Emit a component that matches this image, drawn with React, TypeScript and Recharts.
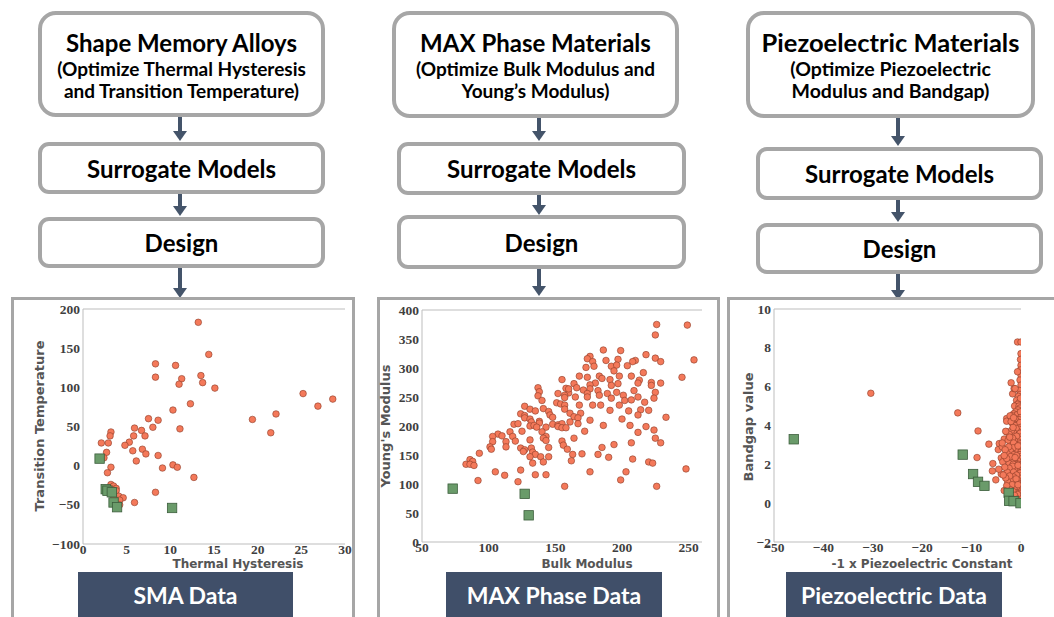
import React from 'react';
import { ScatterChart, Scatter, XAxis, YAxis, ReferenceLine } from 'recharts';

// flow chart text
const panelTitles = ['Shape Memory Alloys', 'MAX Phase Materials', 'Piezoelectric Materials'];
const panelSubtitles = [
  ['(Optimize Thermal Hysteresis', 'and Transition Temperature)'],
  ['(Optimize Bulk Modulus and', 'Young\u2019s Modulus)'],
  ['(Optimize Piezoelectric', 'Modulus and Bandgap)'],
];
const dataLabels = ['SMA Data', 'MAX Phase Data', 'Piezoelectric Data'];
const xLabels = ['Thermal Hysteresis', 'Bulk Modulus', '-1 x Piezoelectric Constant'];
const yLabels = ['Transition Temperature', "Young's Modulus", 'Bandgap value'];

// ticks
const smaXTicks = [0, 5, 10, 15, 20, 25, 30];
const smaYTicks = [-100, -50, 0, 50, 100, 150, 200];
const maxXTicks = [50, 100, 150, 200, 250];
const maxYTicks = [0, 50, 100, 150, 200, 250, 300, 350, 400];
const piezoXTicks = [-50, -40, -30, -20, -10, 0];
const piezoYTicks = [-2, 0, 2, 4, 6, 8, 10];

// SMA: thermal hysteresis vs transition temperature
const smaOrange = [
  [13.2, 183], [14.4, 142], [8.3, 130], [10.6, 128], [8.3, 113], [13.5, 115], [11.3, 111], [11.0, 104],
  [13.7, 106], [15.1, 99], [25.2, 92], [28.6, 85], [26.9, 76], [12.3, 79], [10.3, 71], [22.1, 66],
  [19.4, 59], [7.5, 60], [8.6, 58], [8.0, 49], [5.9, 48], [6.7, 45], [11.1, 47], [3.2, 43],
  [3.1, 38], [5.8, 38], [7.1, 38], [21.5, 42], [2.1, 29], [2.9, 29], [5.3, 30], [4.8, 26],
  [6.8, 21], [5.7, 19], [7.2, 15], [2.7, 17], [2.4, 10], [8.6, 13], [6.1, 6], [3.2, -2],
  [10.3, 1], [10.8, -2], [9.1, -3], [2.8, -9], [12.7, -15], [3.2, -24], [3.5, -26], [3.8, -29],
  [3.8, -32], [3.3, -30], [8.3, -34], [3.8, -42], [4.1, -39], [4.6, -41], [4.2, -44], [5.9, -47],
  [4.2, -50], [3.5, -39],
];
const smaGreen = [
  [1.9, 9], [2.6, -30], [2.8, -32], [3.3, -34], [3.5, -47], [3.9, -53], [10.2, -54],
];

// MAX phases: bulk modulus vs Young's modulus
const maxOrange = [
  [226, 375], [249, 374], [225, 357], [186, 331], [199, 330], [176, 320], [218, 323], [254, 314],
  [188, 313], [197, 315], [210, 313], [225, 317], [229, 311], [174, 316], [178, 311], [179, 303],
  [192, 303], [173, 301], [196, 305], [208, 311], [204, 304], [194, 295], [216, 292], [168, 286],
  [174, 284], [155, 280], [183, 286], [185, 282], [198, 286], [207, 286], [245, 284], [191, 280],
  [180, 274], [164, 273], [213, 279], [222, 275], [229, 274], [192, 270], [176, 271], [158, 265],
  [166, 266], [137, 266], [171, 262], [176, 264], [182, 261], [197, 273], [212, 274], [222, 270],
  [209, 261], [138, 259], [152, 256], [160, 257], [174, 256], [189, 256], [196, 258], [225, 258],
  [157, 253], [165, 250], [137, 252], [183, 253], [201, 253], [224, 248], [174, 250], [192, 248],
  [212, 250], [157, 249], [140, 244], [202, 244], [207, 245], [217, 241], [151, 240], [154, 238],
  [168, 236], [178, 236], [184, 236], [198, 236], [157, 236], [127, 234], [131, 229], [135, 226],
  [141, 230], [157, 229], [191, 227], [205, 226], [214, 228], [145, 225], [124, 221], [127, 218],
  [146, 219], [161, 222], [164, 216], [169, 222], [167, 214], [148, 215], [127, 214], [131, 212],
  [132, 207], [138, 208], [138, 205], [200, 212], [212, 219], [220, 227], [176, 210], [161, 207],
  [233, 215], [167, 204], [119, 203], [122, 204], [148, 203], [152, 202], [155, 204], [131, 200],
  [134, 201], [136, 198], [152, 199], [155, 197], [158, 197], [186, 201], [206, 201], [218, 199],
  [143, 198], [140, 190], [172, 191], [125, 191], [116, 190], [212, 189], [224, 193], [143, 182],
  [141, 179], [118, 182], [107, 186], [103, 182], [110, 183], [120, 174], [131, 176], [143, 175],
  [155, 174], [113, 173], [103, 173], [225, 179], [207, 171], [229, 171], [164, 179], [101, 164],
  [113, 164], [124, 162], [145, 163], [156, 167], [159, 160], [185, 163], [194, 168], [102, 160],
  [127, 159], [132, 162], [126, 156], [133, 155], [135, 151], [93, 153], [182, 151], [170, 152],
  [163, 151], [131, 147], [139, 147], [145, 147], [190, 146], [86, 142], [88, 139], [83, 134],
  [86, 134], [89, 132], [133, 136], [141, 138], [162, 140], [208, 143], [220, 138], [223, 136],
  [105, 121], [112, 115], [124, 124], [176, 121], [203, 121], [248, 126], [135, 116], [143, 116],
  [92, 106], [122, 104], [199, 107], [157, 96], [226, 96], [160, 264],
];
const maxGreen = [[73, 92], [127, 83], [130, 46]];

// piezoelectrics: -1 x piezoelectric constant vs bandgap
const piezoOrange = [
  [-30.4, 5.66], [-12.8, 4.65], [-8.7, 3.72], [-8.9, 2.35], [-6.5, 3.04], [-5.8, 1.66], [-5.7, 2.04],
  [-5.1, 1.2], [-4.6, 2.76], [-4.4, 3.07], [-4.0, 2.33], [-3.7, 2.13], [-3.8, 2.9], [-3.4, 3.3],
  [-2.9, 4.36], [-2.9, 4.22], [-2.9, 3.67], [-2.0, 6.2], [-1.7, 5.63], [-1.4, 5.9], [-1.2, 4.53],
  [-0.7, 8.3], [0, 8.3], [0, 7.7], [-0.1, 7.4], [0, 7.1], [-0.1, 6.86], [0, 6.6], [-0.2, 6.34],
  [0, 6.08], [-0.3, 5.8], [-0.7, 6.77], [-1.2, 5.9],
  [-0.2, 5.6], [-0.5, 5.5], [-0.9, 5.3], [-0.3, 5.2], [-1.0, 5.05], [-0.6, 5.1], [-0.1, 5.4], [-1.3, 5.0], [-0.4, 5.0],
  [-0.2, 4.9], [-0.6, 4.8], [-1.1, 4.7], [-1.5, 4.6], [-0.3, 4.6], [-0.8, 4.55], [-1.8, 4.5], [-0.1, 4.7], [-2.2, 4.5],
  [-0.1, 4.4], [-0.4, 4.3], [-0.8, 4.2], [-1.2, 4.35], [-1.7, 4.1], [-2.0, 4.2], [-0.5, 4.05], [-1.0, 4.0], [-0.2, 4.15], [-1.5, 4.4],
  [-0.1, 3.9], [-0.3, 3.8], [-0.7, 3.7], [-1.0, 3.85], [-1.4, 3.6], [-1.9, 3.75], [-2.4, 3.55], [-0.5, 3.5], [-1.6, 3.9], [-0.2, 3.6], [-3.1, 3.7],
  [-0.1, 3.4], [-0.4, 3.3], [-0.6, 3.15], [-0.9, 3.45], [-1.3, 3.2], [-1.7, 3.35], [-2.1, 3.1], [-2.6, 3.25], [-3.8, 3.1],
  [-0.2, 3.05], [-1.1, 3.0], [-1.5, 3.1], [-2.3, 3.4],
  [-0.1, 2.95], [-0.3, 2.8], [-0.5, 2.65], [-0.8, 2.9], [-1.0, 2.55], [-1.2, 2.75], [-1.6, 2.85], [-1.9, 2.6], [-2.2, 2.7],
  [-2.5, 2.9], [-2.8, 2.55], [-3.2, 2.75], [-0.2, 2.5], [-0.6, 2.95], [-1.4, 2.5],
  [-0.1, 2.4], [-0.2, 2.1], [-0.4, 2.3], [-0.7, 2.2], [-0.9, 2.45], [-1.1, 2.05], [-1.4, 2.3], [-1.8, 2.15], [-2.1, 2.4],
  [-2.4, 2.05], [-2.9, 2.3], [-3.4, 2.45], [-0.5, 2.0], [-1.2, 2.35], [-1.6, 2.0],
  [-0.1, 1.9], [-0.3, 1.75], [-0.5, 1.6], [-0.8, 1.85], [-1.0, 1.5], [-1.3, 1.7], [-1.7, 1.9], [-2.0, 1.55], [-2.4, 1.8],
  [-2.8, 1.6], [-3.3, 1.85], [-4.0, 1.5], [-4.5, 1.75], [-0.2, 1.55], [-0.6, 1.95], [-1.5, 1.6],
  [-0.1, 1.4], [-0.2, 1.1], [-0.4, 1.3], [-0.7, 1.2], [-0.9, 1.45], [-1.2, 1.05], [-1.5, 1.35], [-1.9, 1.2], [-2.3, 1.4],
  [-2.7, 1.1], [-3.1, 1.3], [-3.6, 1.45], [-0.5, 1.0], [-1.0, 1.25],
  [-0.1, 0.9], [-0.3, 0.75], [-0.5, 0.6], [-0.8, 0.85], [-1.1, 0.55], [-1.4, 0.8], [-1.8, 0.95], [-2.2, 0.7], [-2.9, 0.9],
  [-3.4, 0.65], [-0.2, 0.5], [-0.6, 0.95], [-1.6, 0.6],
  [-0.1, 0.4], [-0.2, 0.15], [-0.4, 0.3], [-0.7, 0.45], [-1.0, 0.25], [-1.3, 0.4], [-0.5, 0.1], [-0.3, 0.05], [-0.8, 0.2],
];
const piezoGreen = [
  [-46.0, 3.29], [-11.8, 2.5], [-9.7, 1.5], [-8.7, 1.1], [-7.4, 0.89], [-2.5, 0.53], [-2.4, 0.12], [-1.5, 0.1], [-0.1, 0.0],
];

const NAVY = '#404f69';
const ARROW = '#44546a';
const FRAME = '#a6a6a6';
const BOX_FONT = 'Lato, "Open Sans", sans-serif';
const TICK_STYLE: React.CSSProperties = {
  fontFamily: '"Liberation Serif", "DejaVu Serif", serif',
  fontWeight: 700,
  fontSize: 13.5,
};

const toXY = (arr: number[][]) => arr.map(([x, y]) => ({ x, y }));

const Dot = (p: any) => (
  <circle cx={p.cx} cy={p.cy} r={3.3} fill="#f4795a" stroke="#8c3d28" strokeWidth={0.6} />
);
const Square = (p: any) => (
  <rect x={p.cx - 4.7} y={p.cy - 4.7} width={9.4} height={9.4} fill="#6a9b6a" stroke="#3c5e3c" strokeWidth={0.8} />
);

const fmt = (v: number) => (v < 0 ? '\u2212' + Math.abs(v) : String(v));

const XTick = (p: any) => (
  <text x={p.x} y={p.y} dy={9} textAnchor="middle" fill="#3f3f3f" style={TICK_STYLE}>
    {fmt(p.payload.value)}
  </text>
);
const YTick = (p: any) => (
  <text x={p.x} y={p.y} dy={4.5} textAnchor="end" fill="#3f3f3f" style={TICK_STYLE}>
    {fmt(p.payload.value)}
  </text>
);

interface PlotProps {
  plot: [number, number, number, number]; // left, top, right, bottom of plotting area
  clip: [number, number, number, number];
  orange: number[][];
  green: number[][];
  xDomain: [number, number];
  yDomain: [number, number];
  xTicks: number[];
  yTicks: number[];
}

const Plot: React.FC<PlotProps> = ({ plot, clip, orange, green, xDomain, yDomain, xTicks, yTicks }) => {
  const [pl, pt, pr, pb] = plot;
  const yw = 70;
  const xh = 26;
  const mt = 12;
  const mr = 16;
  const left = pl - yw;
  const top = pt - mt;
  const width = pr - left + mr;
  const height = pb - top + xh;
  const [cl, ct, cw, ch] = clip;
  return (
    <div style={{ position: 'absolute', left: cl, top: ct, width: cw, height: ch, overflow: 'hidden' }}>
      <div style={{ position: 'absolute', left: left - cl, top: top - ct }}>
        <ScatterChart width={width} height={height} margin={{ top: mt, right: mr, left: 0, bottom: 0 }}>
          <XAxis
            type="number"
            dataKey="x"
            domain={xDomain}
            ticks={xTicks}
            interval={0}
            allowDataOverflow
            height={xh}
            tick={XTick}
            tickLine={false}
            tickSize={0}
            tickMargin={1}
            axisLine={{ stroke: '#bdbdbd' }}
          />
          <YAxis
            type="number"
            dataKey="y"
            domain={yDomain}
            ticks={yTicks}
            interval={0}
            allowDataOverflow
            width={yw}
            tick={YTick}
            tickLine={false}
            tickSize={0}
            tickMargin={3}
            axisLine={{ stroke: '#bdbdbd' }}
          />
          <ReferenceLine y={yDomain[1]} stroke="#bdbdbd" />
          <Scatter data={toXY(orange)} shape={Dot} isAnimationActive={false} />
          <Scatter data={toXY(green)} shape={Square} isAnimationActive={false} />
        </ScatterChart>
      </div>
    </div>
  );
};

const Box: React.FC<{ r: number[]; radius: number; children: React.ReactNode }> = ({ r, radius, children }) => (
  <div
    style={{
      position: 'absolute',
      left: r[0],
      top: r[1],
      width: r[2] - r[0],
      height: r[3] - r[1],
      boxSizing: 'border-box',
      border: `4px solid ${FRAME}`,
      borderRadius: radius,
      background: '#fff',
      display: 'flex',
      flexDirection: 'column',
      alignItems: 'center',
      justifyContent: 'center',
      fontFamily: BOX_FONT,
      fontWeight: 700,
      color: '#000',
      whiteSpace: 'nowrap',
    }}
  >
    {children}
  </div>
);

const Arrow: React.FC<{ x: number; y1: number; y2: number }> = ({ x, y1, y2 }) => (
  <>
    <div style={{ position: 'absolute', left: x - 2, top: y1, width: 4, height: y2 - y1 - 9, background: ARROW }} />
    <div
      style={{
        position: 'absolute',
        left: x - 7,
        top: y2 - 10,
        width: 0,
        height: 0,
        borderLeft: '7px solid transparent',
        borderRight: '7px solid transparent',
        borderTop: `10px solid ${ARROW}`,
      }}
    />
  </>
);

const flowLayout = [
  { big: [38, 11, 325, 117], sur: [38, 142, 325, 194], des: [38, 217, 325, 268], ax: 180, arrows: [[117, 141], [194, 216], [268, 298]], ts: 24, ss: 19 },
  { big: [392, 11, 679, 118], sur: [397, 142, 686, 195], des: [397, 215, 686, 269], ax: 539, arrows: [[118, 141], [195, 215], [269, 296]], ts: 24, ss: 19 },
  { big: [746, 11, 1035, 118], sur: [756, 147, 1043, 200], des: [756, 223, 1043, 274], ax: 898, arrows: [[118, 146], [200, 222], [274, 300]], ts: 25.5, ss: 19.5 },
];
const frames = [[11, 355], [377, 720], [727, 1070]];
const labelBoxes = [[78, 293], [446, 662], [786, 1002]];
const axisLabelPos = [
  { xl: [238, 564], yl: [40, 426] },
  { xl: [587, 564], yl: [386, 426] },
  { xl: [922, 564], yl: [749, 427] },
];

export default function App() {
  const axisFont: React.CSSProperties = {
    position: 'absolute',
    fontFamily: '"DejaVu Sans", "Open Sans", sans-serif',
    fontWeight: 700,
    color: '#555',
    whiteSpace: 'nowrap',
    lineHeight: '16px',
  };
  return (
    <div style={{ position: 'absolute', left: 0, top: 0, width: 1054, height: 617, overflow: 'hidden', background: '#fff' }}>
      {flowLayout.map((f, i) => (
        <React.Fragment key={i}>
          <Box r={f.big} radius={18}>
            <div style={{ fontSize: f.ts, lineHeight: '31px' }}>{panelTitles[i]}</div>
            <div style={{ fontSize: f.ss, lineHeight: '22px' }}>{panelSubtitles[i][0]}</div>
            <div style={{ fontSize: f.ss, lineHeight: '22px' }}>{panelSubtitles[i][1]}</div>
          </Box>
          <Box r={f.sur} radius={11}>
            <div style={{ fontSize: 24 }}>Surrogate Models</div>
          </Box>
          <Box r={f.des} radius={11}>
            <div style={{ fontSize: 24 }}>Design</div>
          </Box>
          {f.arrows.map(([a, b], j) => (
            <Arrow key={j} x={f.ax} y1={a} y2={b} />
          ))}
        </React.Fragment>
      ))}

      {frames.map(([l, r], i) => (
        <div
          key={i}
          style={{ position: 'absolute', left: l, top: 297, width: r - l, height: 340, boxSizing: 'border-box', border: `3px solid ${FRAME}` }}
        />
      ))}

      <Plot plot={[83, 309, 345, 544]} clip={[14, 300, 338, 290]} orange={smaOrange} green={smaGreen}
        xDomain={[0, 30]} yDomain={[-100, 200]} xTicks={smaXTicks} yTicks={smaYTicks} />
      <Plot plot={[422, 310, 702, 542]} clip={[380, 300, 337, 290]} orange={maxOrange} green={maxGreen}
        xDomain={[50, 260]} yDomain={[0, 400]} xTicks={maxXTicks} yTicks={maxYTicks} />
      <Plot plot={[774, 309, 1021, 542]} clip={[730, 300, 324, 290]} orange={piezoOrange} green={piezoGreen}
        xDomain={[-50, 0]} yDomain={[-2, 10]} xTicks={piezoXTicks} yTicks={piezoYTicks} />

      {axisLabelPos.map((p, i) => (
        <React.Fragment key={i}>
          <div style={{ ...axisFont, fontSize: 12, left: p.xl[0], top: p.xl[1], transform: 'translate(-50%, -50%)' }}>{xLabels[i]}</div>
          <div style={{ ...axisFont, fontSize: 13, left: p.yl[0], top: p.yl[1], transform: 'translate(-50%, -50%) rotate(-90deg)' }}>{yLabels[i]}</div>
        </React.Fragment>
      ))}

      {labelBoxes.map(([l, r], i) => (
        <div
          key={i}
          style={{
            position: 'absolute', left: l, top: 572, width: r - l, height: 50, background: NAVY,
            display: 'flex', alignItems: 'center', justifyContent: 'center', paddingBottom: 4, boxSizing: 'border-box',
          }}
        >
          <div style={{ fontFamily: BOX_FONT, fontWeight: 700, fontSize: 23, color: '#fff', whiteSpace: 'nowrap' }}>
            {dataLabels[i]}
          </div>
        </div>
      ))}
    </div>
  );
}
